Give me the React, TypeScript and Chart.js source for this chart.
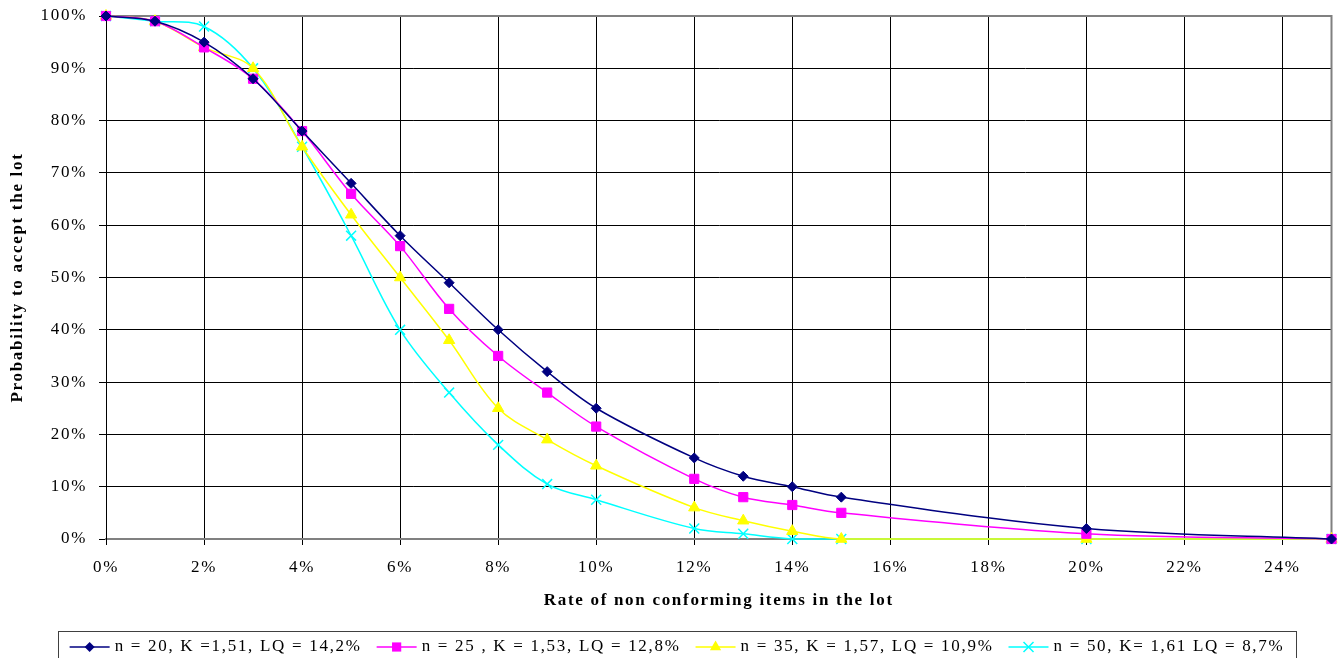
import React, { useEffect, useRef } from 'react';
import { Chart, registerables } from 'chart.js';

Chart.register(...registerables);

// ---- data (percent values) ----
const xValues = [0, 1, 2, 3, 4, 5, 6, 7, 8, 9, 10, 12, 13, 14, 15, 20, 25];
const seriesN20 = [100, 99, 95, 88, 78, 68, 58, 49, 40, 32, 25, 15.5, 12, 10, 8, 2, 0];
const seriesN25 = [100, 99, 94, 88, 78, 66, 56, 44, 35, 28, 21.5, 11.5, 8, 6.5, 5, 1, 0];
const seriesN35 = [100, 99, 94, 90, 75, 62, 50, 38, 25, 19, 14, 6, 3.5, 1.5, 0, 0, 0];
const seriesN50 = [100, 99, 98, 90, 75, 58, 40, 28, 18, 10.5, 7.5, 2, 1, 0, 0, 0, 0];
const seriesLabels = [
  'n = 20, K =1,51, LQ = 14,2%',
  'n = 25 , K = 1,53, LQ = 12,8%',
  'n = 35, K = 1,57, LQ = 10,9%',
  'n = 50, K= 1,61 LQ = 8,7%',
];
const xTitle = 'Rate of non conforming items in the lot';
const yTitle = 'Probability to accept the lot';

const colors = ['#000080', '#FF00FF', '#FFFF00', '#00FFFF'];
const markers = ['rectRot', 'rect', 'triangle', 'crossRot'];
const markerRadius = [5, 6.5, 6.5, 7];

const FONT = '"Liberation Serif", "Times New Roman", serif';
const FONT_SIZE = 17;
const SPACING = '1.7px';

function drawMarker(ctx: CanvasRenderingContext2D, style: string, x: number, y: number, color: string) {
  ctx.save();
  ctx.fillStyle = color;
  ctx.strokeStyle = color;
  ctx.lineWidth = 1.5;
  ctx.beginPath();
  if (style === 'rectRot') {
    const r = 5;
    ctx.moveTo(x, y - r);
    ctx.lineTo(x + r, y);
    ctx.lineTo(x, y + r);
    ctx.lineTo(x - r, y);
    ctx.closePath();
    ctx.fill();
  } else if (style === 'rect') {
    const s = 4.6;
    ctx.rect(x - s, y - s, 2 * s, 2 * s);
    ctx.fill();
  } else if (style === 'triangle') {
    const r = 6.5;
    ctx.moveTo(x, y - r);
    ctx.lineTo(x + r * 0.866, y + r * 0.5);
    ctx.lineTo(x - r * 0.866, y + r * 0.5);
    ctx.closePath();
    ctx.fill();
  } else {
    const r = 5;
    ctx.moveTo(x - r, y - r);
    ctx.lineTo(x + r, y + r);
    ctx.moveTo(x + r, y - r);
    ctx.lineTo(x - r, y + r);
    ctx.stroke();
  }
  ctx.restore();
}

const setSpacing = (chart: any) => {
  (chart.ctx as any).letterSpacing = SPACING;
};

const decorPlugin = {
  id: 'decor',
  beforeLayout: setSpacing,
  beforeDraw: setSpacing,
  beforeDatasetsDraw(chart: any) {
    const { ctx, chartArea: a } = chart;
    ctx.save();
    ctx.strokeStyle = '#808080';
    ctx.lineWidth = 2;
    ctx.beginPath();
    ctx.moveTo(a.left, a.top);
    ctx.lineTo(a.right, a.top);
    ctx.lineTo(a.right, a.bottom);
    ctx.stroke();
    ctx.restore();
  },
  afterDraw(chart: any) {
    const { ctx, chartArea: a } = chart;
    ctx.save();
    (ctx as any).letterSpacing = SPACING;
    ctx.fillStyle = '#000';
    ctx.font = `bold ${FONT_SIZE}px ${FONT}`;
    ctx.textAlign = 'center';
    ctx.textBaseline = 'middle';
    // x title
    ctx.fillText(xTitle, (a.left + a.right) / 2, 601);
    // y title
    ctx.save();
    ctx.translate(18, (a.top + a.bottom) / 2);
    ctx.rotate(-Math.PI / 2);
    ctx.fillText(yTitle, 0, 0);
    ctx.restore();

    // legend
    const boxL = 58, boxR = 1296, boxT = 631;
    ctx.strokeStyle = '#404040';
    ctx.lineWidth = 1;
    ctx.strokeRect(boxL + 0.5, boxT + 0.5, boxR - boxL, 40);
    ctx.font = `${FONT_SIZE}px ${FONT}`;
    ctx.textAlign = 'left';
    const lineLen = 40, gapAfterLine = 5, gapItems = 15;
    const widths = seriesLabels.map((t) => ctx.measureText(t).width);
    const total = widths.reduce((s, w) => s + lineLen + gapAfterLine + w, 0) + gapItems * (seriesLabels.length - 1);
    let x = (boxL + boxR) / 2 - total / 2;
    const y = 647;
    seriesLabels.forEach((label, i) => {
      ctx.strokeStyle = colors[i];
      ctx.lineWidth = 1.5;
      ctx.beginPath();
      ctx.moveTo(x, y);
      ctx.lineTo(x + lineLen, y);
      ctx.stroke();
      drawMarker(ctx, markers[i], x + lineLen / 2, y, colors[i]);
      ctx.fillStyle = '#000';
      ctx.fillText(label, x + lineLen + gapAfterLine, y);
      x += lineLen + gapAfterLine + widths[i] + gapItems;
    });
    ctx.restore();
  },
};

const allSeries = [seriesN20, seriesN25, seriesN35, seriesN50];

export default function App() {
  const canvasRef = useRef<HTMLCanvasElement | null>(null);

  useEffect(() => {
    const canvas = canvasRef.current;
    if (!canvas) return;
    const chart = new Chart(canvas, {
      type: 'line',
      data: {
        datasets: allSeries.map((ys, i) => ({
          label: seriesLabels[i],
          data: xValues.map((x, j) => ({ x, y: ys[j] })),
          borderColor: colors[i],
          backgroundColor: colors[i],
          borderWidth: 1.5,
          pointStyle: markers[i] as any,
          pointRadius: markerRadius[i],
          pointBorderWidth: i === 3 ? 1.5 : 1,
          pointBorderColor: colors[i],
          pointBackgroundColor: colors[i],
          tension: 0.35,
          fill: false,
          clip: 10,
        })),
      },
      options: {
        responsive: false,
        animation: false,
        devicePixelRatio: 1,
        layout: { padding: { left: 0, top: 16, right: 6, bottom: 0 } },
        plugins: {
          legend: { display: false },
          tooltip: { enabled: false },
        },
        scales: {
          x: {
            type: 'linear',
            min: 0,
            max: 25,
            afterFit: (scale: any) => {
              scale.height = 119;
            },
            ticks: {
              stepSize: 2,
              includeBounds: false,
              autoSkip: false,
              maxRotation: 0,
              padding: 12,
              color: '#000',
              font: { family: FONT, size: FONT_SIZE },
              callback: (v: any) => `${Math.round(Number(v))}%`,
            },
            grid: { color: '#000', lineWidth: 1, tickLength: 6, drawTicks: true },
            border: { color: '#808080', width: 2 },
          },
          y: {
            type: 'linear',
            min: 0,
            max: 100,
            afterFit: (scale: any) => {
              scale.width = 106;
              scale.paddingTop = 4;
              scale.paddingBottom = 4;
            },
            ticks: {
              stepSize: 10,
              padding: 12,
              color: '#000',
              font: { family: FONT, size: FONT_SIZE },
              callback: (v: any) => `${Math.round(Number(v))}%`,
            },
            grid: { color: '#000', lineWidth: 1, tickLength: 7, drawTicks: true },
            border: { color: '#000', width: 1 },
          },
        },
      },
      plugins: [decorPlugin],
    });
    return () => chart.destroy();
  }, []);

  return (
    <div style={{ position: 'fixed', left: 0, top: 0, width: 1340, height: 658, background: '#fff' }}>
      <canvas ref={canvasRef} width={1340} height={658} style={{ display: 'block', width: 1340, height: 658 }} />
    </div>
  );
}
